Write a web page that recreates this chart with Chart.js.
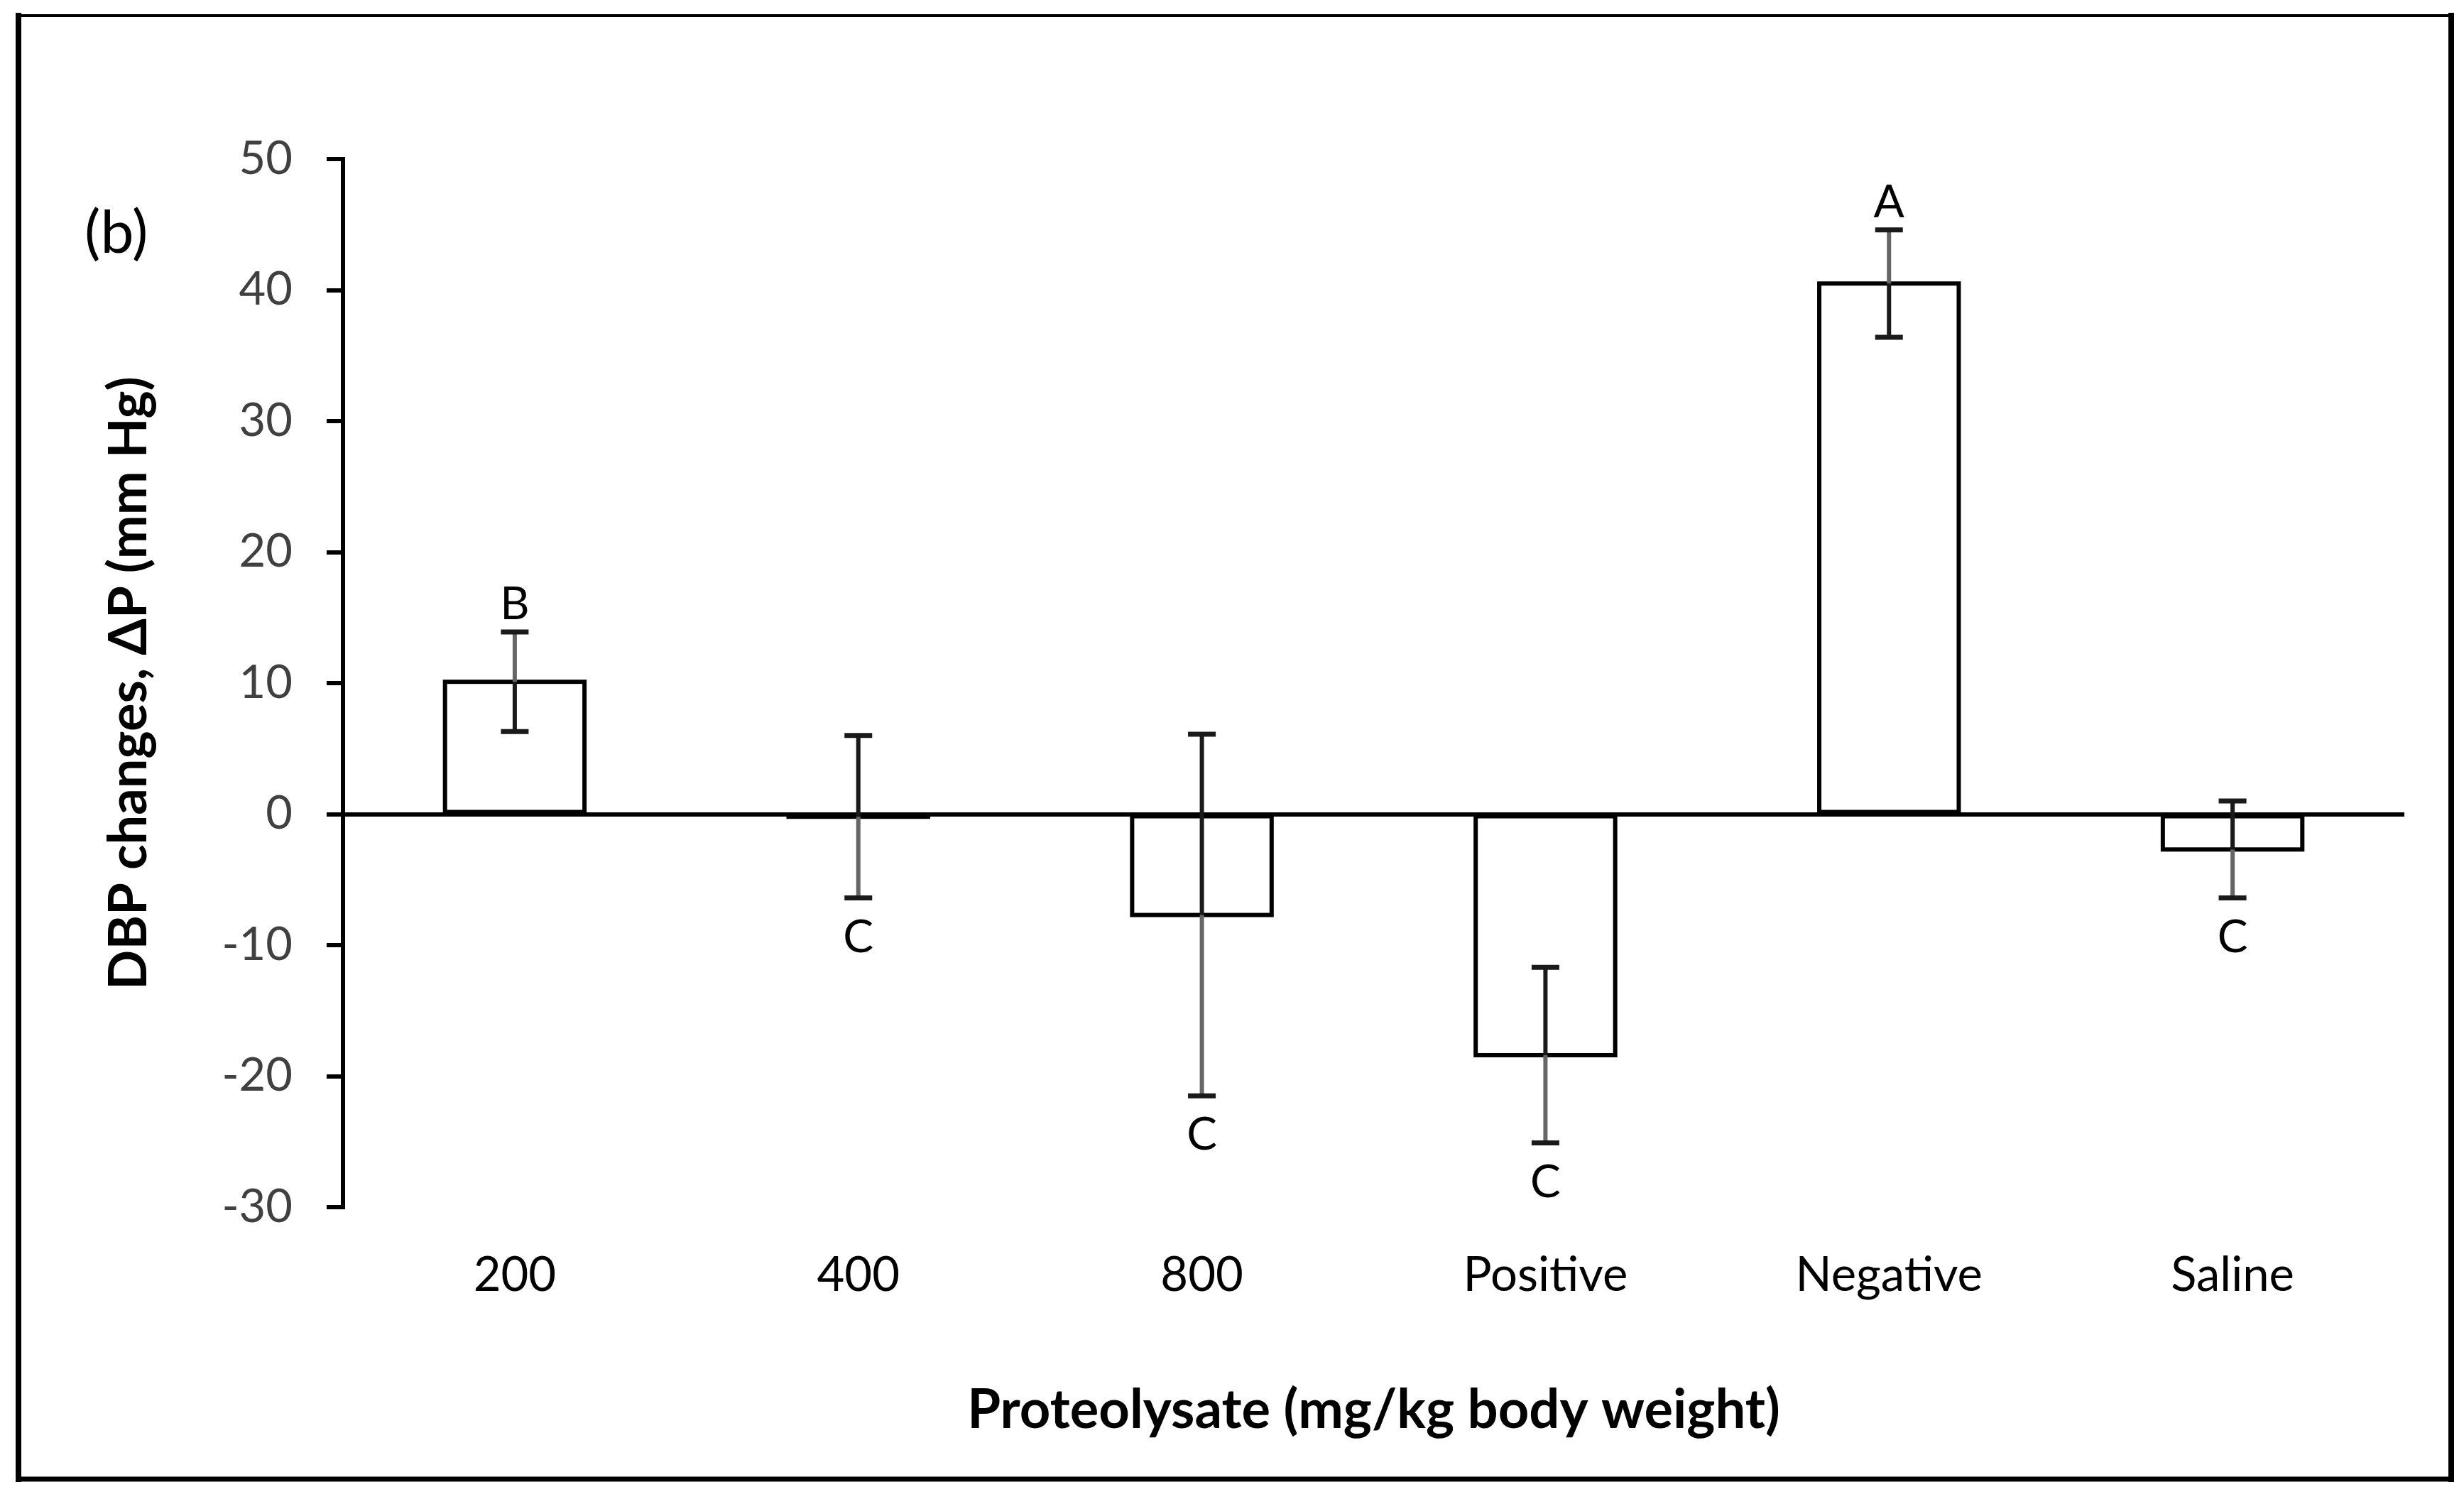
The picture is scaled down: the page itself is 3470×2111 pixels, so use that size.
<!DOCTYPE html>
<html>
<head>
<meta charset="utf-8">
<title>DBP changes</title>
<script src="https://cdn.jsdelivr.net/npm/chart.js@4.4.1/dist/chart.umd.min.js"></script>
<style>
  html, body { margin: 0; padding: 0; background: #fff; }
  #wrap { width: 3470px; height: 2111px; position: relative; }
</style>
</head>
<body>
<div id="wrap"><canvas id="mycanvas"></canvas></div>
<script>
// values
var categories = ['200', '400', '800', 'Positive', 'Negative', 'Saline'];
var dbpChange = [10.1, -0.2, -7.7, -18.4, 40.5, -2.7];
var dbpError = [3.8, 6.2, 13.8, 6.7, 4.1, 3.7];
var groupLetters = ['B', 'C', 'C', 'C', 'A', 'C'];
var yMin = -30, yMax = 50, yStep = 10;

var FONT = 'Lato';

// bar outlines (centred stroke, like the office chart), error bars, letters
var errorBars = {
	id: 'errorBars',
	afterDatasetsDraw: function(chart) {
		var ctx = chart.ctx;
		var y = chart.scales.y;
		var meta = chart.getDatasetMeta(0);
		ctx.save();

		meta.data.forEach(function(bar) {
			var top = Math.min(bar.y, bar.base);
			var h = Math.abs(bar.y - bar.base);
			ctx.strokeStyle = '#000';
			ctx.lineWidth = 6;
			ctx.lineJoin = 'miter';
			ctx.strokeRect(bar.x - bar.width / 2, top, bar.width, h);
		});

		meta.data.forEach(function(bar, i) {
			var v = dbpChange[i], e = dbpError[i];
			var x = bar.x;
			var pv = y.getPixelForValue(v);
			var pHi = y.getPixelForValue(v + e);
			var pLo = y.getPixelForValue(v - e);
			var pOut = v >= 0 ? pHi : pLo;
			var pIn = v >= 0 ? pLo : pHi;

			ctx.lineWidth = 6;
			ctx.lineCap = 'butt';
			ctx.strokeStyle = '#1a1a1a';
			ctx.beginPath(); ctx.moveTo(x, pIn); ctx.lineTo(x, pv); ctx.stroke();
			ctx.strokeStyle = '#666666';
			ctx.beginPath(); ctx.moveTo(x, pv); ctx.lineTo(x, pOut); ctx.stroke();

			ctx.strokeStyle = '#1a1a1a';
			ctx.lineWidth = 7;
			[pHi, pLo].forEach(function(p) {
				ctx.beginPath(); ctx.moveTo(x - 19.5, p); ctx.lineTo(x + 19.5, p); ctx.stroke();
			});

			ctx.fillStyle = '#000';
			ctx.font = '64px ' + FONT;
			ctx.textAlign = 'center';
			ctx.textBaseline = 'alphabetic';
			if (v >= 0) {
				ctx.fillText(groupLetters[i], x, pHi - 18);
			} else {
				ctx.fillText(groupLetters[i], x, pLo + 30 + 46);
			}
		});
		ctx.restore();
	}
};

// panel tag and frame
var decor = {
	id: 'decor',
	afterDraw: function(chart) {
		var ctx = chart.ctx;
		ctx.save();
		ctx.fillStyle = '#000';
		ctx.font = '84px ' + FONT;
		ctx.textAlign = 'left';
		ctx.textBaseline = 'alphabetic';
		ctx.fillText('(b)', 119, 356);

		ctx.strokeStyle = '#000';
		ctx.lineCap = 'square';
		ctx.lineWidth = 8;
		ctx.beginPath(); ctx.moveTo(26, 22); ctx.lineTo(26, 2083); ctx.stroke();
		ctx.beginPath(); ctx.moveTo(3452, 22); ctx.lineTo(3452, 2083); ctx.stroke();
		ctx.lineWidth = 4;
		ctx.beginPath(); ctx.moveTo(26, 22); ctx.lineTo(3452, 22); ctx.stroke();
		ctx.lineWidth = 7;
		ctx.beginPath(); ctx.moveTo(26, 2083); ctx.lineTo(3452, 2083); ctx.stroke();
		ctx.restore();
	}
};

var chartdata = {
	labels: categories,
	datasets: [{
		label: 'DBP change',
		data: dbpChange,
		backgroundColor: '#ffffff',
		borderWidth: 0,
		barPercentage: 0.406,
		categoryPercentage: 1.0
	}]
};

var ctx = document.getElementById('mycanvas');

var barGraph = new Chart(ctx, {
	type: 'bar',
	data: chartdata,
	plugins: [errorBars, decor],
	options: {
		responsive: true,
		maintainAspectRatio: false,
		devicePixelRatio: 1,
		animation: false,
		layout: { padding: { top: 224, right: 84, left: 0, bottom: 0 } },
		plugins: {
			legend: { display: false },
			tooltip: { enabled: false }
		},
		scales: {
			x: {
				grid: { display: false, drawTicks: false },
				border: { display: false },
				ticks: {
					color: '#000',
					padding: 56,
					font: { family: FONT, size: 67 }
				},
				title: {
					display: true,
					text: 'Proteolysate (mg/kg body weight)',
					color: '#000',
					font: { family: FONT, size: 76, weight: 'bold' },
					padding: { top: 0, bottom: 79 }
				},
				afterFit: function(scale) { scale.height = 411; }
			},
			y: {
				min: yMin,
				max: yMax,
				ticks: {
					stepSize: yStep,
					color: '#404040',
					padding: 48,
					font: { family: FONT, size: 65 }
				},
				grid: {
					color: function(c) { return c.tick && c.tick.value === 0 ? '#000' : 'rgba(0,0,0,0)'; },
					lineWidth: 6,
					tickColor: '#000',
					tickWidth: 6,
					tickLength: 23
				},
				border: { display: true, color: '#000', width: 6 },
				title: {
					display: true,
					text: 'DBP changes, ΔP (mm Hg)',
					color: '#000',
					font: { family: FONT, size: 74, weight: 'bold' },
					padding: { top: 138, bottom: 0 }
				},
				afterFit: function(scale) { scale.width = 483; }
			}
		}
	}
});
</script>
</body>
</html>
